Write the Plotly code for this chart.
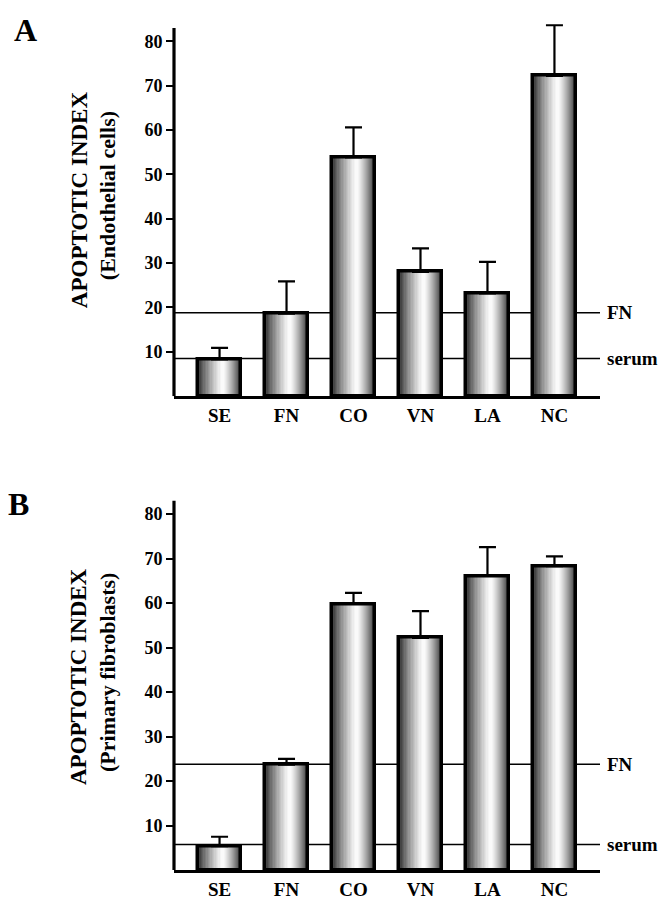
import plotly.graph_objects as go

categories = ["SE", "FN", "CO", "VN", "LA", "NC"]

# Panel A: endothelial cells
a_values = [8.3, 18.6, 53.8, 28.0, 23.2, 72.2]
a_errors = [2.6, 7.3, 6.8, 5.3, 7.1, 11.4]
a_ref_fn = 18.8
a_ref_serum = 8.5

# Panel B: primary fibroblasts
b_values = [5.4, 23.7, 59.8, 52.2, 66.1, 68.3]
b_errors = [2.1, 1.3, 2.5, 6.0, 6.5, 2.2]
b_ref_fn = 23.8
b_ref_serum = 5.75

y_ticks = [10, 20, 30, 40, 50, 60, 70, 80]
axis_top = 83
y_max = 86

FONT = "Liberation Serif"
W = 0.645
N_STRIPS = 18
HIGHLIGHT = 0.57

# page has an 8px body margin; figure is sized so it ends at the window edge
OFF = 8
FW, FH = 666 - OFF, 900 - OFF


def px(x):
    return (x - OFF) / FW


def py(y):
    return 1 - (y - OFF) / FH


fig = go.Figure()
xs = list(range(len(categories)))


def add_panel(values, errors, xa, ya):
    for k in range(N_STRIPS):
        t = k / N_STRIPS
        left = -W / 2 + t * HIGHLIGHT * W
        right = W / 2 - t * (1 - HIGHLIGHT) * W
        g = int(round(255 - 200 * (1 - t) ** 1.3))
        fig.add_trace(go.Bar(
            x=xs, y=values, width=right - left, offset=left,
            marker=dict(color=f"rgb({g},{g},{g})", line=dict(width=0)),
            xaxis=xa, yaxis=ya, hoverinfo="skip", showlegend=False))
    fig.add_trace(go.Bar(
        x=xs, y=values, width=W,
        marker=dict(color="rgba(0,0,0,0)", line=dict(color="black", width=3.5)),
        error_y=dict(type="data", symmetric=False, array=errors,
                     arrayminus=[0] * len(errors), color="black",
                     thickness=2.2, width=8.5),
        xaxis=xa, yaxis=ya, showlegend=False))


add_panel(a_values, a_errors, "x", "y")
add_panel(b_values, b_errors, "x2", "y2")

xdom = [px(174), px(600)]
tickfont = dict(family=FONT, size=18, color="black", weight="bold")
xtickfont = dict(family=FONT, size=19, color="black", weight="bold")
xaxis_common = dict(domain=xdom, range=[-0.68, 5.68], tickmode="array",
                    tickvals=xs, ticktext=categories, showline=True,
                    linewidth=3, linecolor="black", ticks="", showgrid=False,
                    zeroline=False, tickfont=xtickfont, fixedrange=True)
yaxis_common = dict(tickmode="array", tickvals=y_ticks,
                    ticktext=[str(v) for v in y_ticks], showline=False,
                    ticks="outside", ticklen=7, tickwidth=2,
                    tickcolor="black", showgrid=False, zeroline=False,
                    tickfont=tickfont, fixedrange=True, range=[0, y_max])

a_bot, a_top = 398, 28
b_bot, b_top = 874, 503
a_dom_top = a_bot - (a_bot - a_top) * y_max / axis_top
b_dom_top = b_bot - (b_bot - b_top) * y_max / axis_top

fig.update_layout(
    width=FW, height=FH,
    margin=dict(l=0, r=0, t=0, b=0),
    paper_bgcolor="white", plot_bgcolor="rgba(0,0,0,0)",
    barmode="overlay", bargap=0,
    showlegend=False,
    xaxis=dict(**xaxis_common, anchor="y"),
    yaxis=dict(**yaxis_common, domain=[py(a_bot), py(a_dom_top)], anchor="x"),
    xaxis2=dict(**xaxis_common, anchor="y2"),
    yaxis2=dict(**yaxis_common, domain=[py(b_bot), py(b_dom_top)], anchor="x2"),
)

lblfont = dict(family=FONT, size=19, color="black", weight="bold")
for xa, ya, fnv, sev in [("x", "y", a_ref_fn, a_ref_serum),
                         ("x2", "y2", b_ref_fn, b_ref_serum)]:
    fig.add_shape(type="line", xref=f"{xa} domain", yref=ya,
                  x0=0, x1=0, y0=0, y1=axis_top,
                  line=dict(color="black", width=3.2))
    for v, name in [(fnv, "FN"), (sev, "serum")]:
        fig.add_shape(type="line", xref=f"{xa} domain", yref=ya,
                      x0=0, x1=1, y0=v, y1=v, layer="below",
                      line=dict(color="black", width=1.6))
        fig.add_annotation(xref=f"{xa} domain", yref=ya, x=1, y=v,
                           text=name, showarrow=False, xanchor="left",
                           xshift=5, font=lblfont)

titlefont = dict(family=FONT, size=23, color="black", weight="bold")
subfont = dict(family=FONT, size=22, color="black", weight="bold")
panel_font = dict(family=FONT, size=32, color="black", weight="bold")

for ycen, sub, letter, lx, ly in [(201, "(Endothelial cells)", "A", 25, 30),
                                 (680, "(Primary fibroblasts)", "B", 18, 506)]:
    fig.add_annotation(xref="paper", yref="paper", x=px(79),
                       y=py(ycen), text="APOPTOTIC INDEX",
                       textangle=-90, showarrow=False, font=titlefont,
                       xanchor="center", yanchor="middle")
    fig.add_annotation(xref="paper", yref="paper", x=px(107),
                       y=py(ycen - 4), text=sub,
                       textangle=-90, showarrow=False, font=subfont,
                       xanchor="center", yanchor="middle")
    fig.add_annotation(xref="paper", yref="paper", x=px(lx),
                       y=py(ly), text=letter, showarrow=False,
                       font=panel_font, xanchor="center", yanchor="middle")

fig.write_html("out.html")
